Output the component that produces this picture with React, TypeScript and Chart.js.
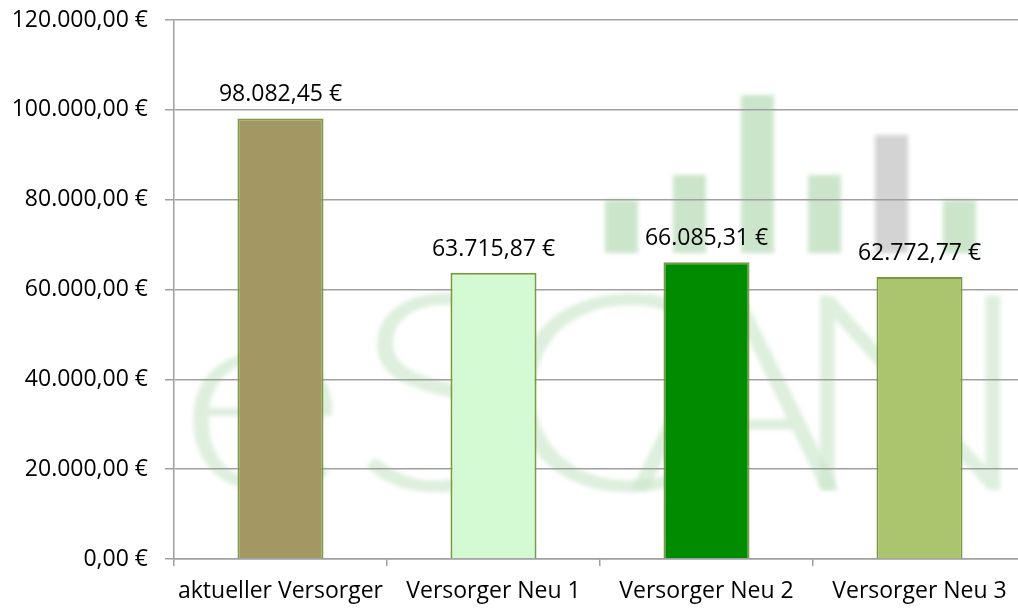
import React, { useEffect, useRef } from "react";
import { Chart, registerables } from "chart.js";

Chart.register(...registerables);

const categories = ["aktueller Versorger", "Versorger Neu 1", "Versorger Neu 2", "Versorger Neu 3"];
const values = [98082.45, 63715.87, 66085.31, 62772.77];
const barColors = ["#A39764", "#D4FAD4", "#008C00", "#ABC46E"];
const yMin = 0;
const yMax = 120000;
const yStep = 20000;

const FONT = "'Open Sans', 'Noto Sans', sans-serif";
const GRID = "#A0A0A0";

function fmtEuro(v: number): string {
  const [i, d] = Number(v).toFixed(2).split(".");
  const ip = i.replace(/\B(?=(\d{3})+(?!\d))/g, ".");
  return ip + "," + d + " €";
}

// faint background logo (decorative watermark, not data)
const watermarkPlugin = {
  id: "watermark",
  beforeDraw(chart: any) {
    const ctx = chart.ctx as CanvasRenderingContext2D;
    ctx.save();
    ctx.filter = "blur(2px)";
    const icon = [
      { x: 605, top: 200, c: "#CBE5CB" },
      { x: 673, top: 175, c: "#CBE5CB" },
      { x: 741, top: 95, c: "#CBE5CB" },
      { x: 808, top: 175, c: "#CBE5CB" },
      { x: 875, top: 135, c: "#D3D3D3" },
      { x: 943, top: 200, c: "#CBE5CB" },
    ];
    icon.forEach((b) => {
      ctx.fillStyle = b.c;
      ctx.fillRect(b.x, b.top, 33, 253 - b.top);
    });
    ctx.fillStyle = "rgba(200,229,200,0.6)";
    ctx.font = "300 275px Lato, 'Open Sans', sans-serif";
    ctx.textAlign = "center";
    ctx.textBaseline = "alphabetic";
    const letters = [
      { t: "e", x: 262 },
      { t: "S", x: 440 },
      { t: "C", x: 610 },
      { t: "A", x: 735 },
      { t: "N", x: 910 },
    ];
    letters.forEach((l) => {
      ctx.save();
      ctx.translate(l.x, 490);
      ctx.scale(1.2, 1);
      ctx.fillText(l.t, 0, 0);
      ctx.restore();
    });
    ctx.restore();
  },
};

const dataLabelPlugin = {
  id: "dataLabels",
  afterDatasetsDraw(chart: any) {
    const ctx = chart.ctx as CanvasRenderingContext2D;
    const meta = chart.getDatasetMeta(0);
    const data = chart.data.datasets[0].data as number[];
    ctx.save();
    ctx.fillStyle = "#000";
    ctx.font = `23px ${FONT}`;
    ctx.textAlign = "center";
    ctx.textBaseline = "alphabetic";
    meta.data.forEach((el: any, i: number) => {
      ctx.fillText(fmtEuro(data[i]), el.x, el.y - 17);
    });
    ctx.restore();
  },
};

export default function App() {
  const ref = useRef<HTMLCanvasElement | null>(null);

  useEffect(() => {
    if (!ref.current) return;
    const chart = new Chart(ref.current, {
      type: "bar",
      data: {
        labels: categories,
        datasets: [
          {
            data: values,
            backgroundColor: barColors,
            borderColor: "#7A9A42",
            borderWidth: 2,
            barPercentage: 0.404,
            categoryPercentage: 1,
          },
        ],
      },
      options: {
        responsive: false,
        animation: false,
        layout: { padding: { top: 20, right: 4, left: 0, bottom: 0 } },
        plugins: {
          legend: { display: false },
          tooltip: { enabled: false },
          title: { display: false },
        },
        scales: {
          x: {
            type: "category",
            offset: true,
            grid: {
              drawOnChartArea: false,
              drawTicks: true,
              tickLength: 7,
              color: GRID,
              lineWidth: 1.5,
              offset: true,
            },
            border: { color: GRID, width: 1.5 },
            ticks: {
              color: "#000",
              font: { family: FONT, size: 23 },
              padding: 12,
              maxRotation: 0,
              autoSkip: false,
            },
            afterFit: (s: any) => {
              s.height = 49;
              s.paddingLeft = 0;
              s.paddingRight = 0;
            },
          },
          y: {
            min: yMin,
            max: yMax,
            ticks: {
              stepSize: yStep,
              callback: (v: any) => fmtEuro(Number(v)),
              color: "#000",
              font: { family: FONT, size: 23 },
              padding: 17,
            },
            grid: { color: GRID, lineWidth: 1.5, tickLength: 9 },
            border: { color: GRID, width: 1.5 },
            afterFit: (s: any) => {
              s.width = 174;
              s.paddingTop = 0;
              s.paddingBottom = 0;
            },
          },
        },
      },
      plugins: [watermarkPlugin, dataLabelPlugin],
    });
    return () => chart.destroy();
  }, []);

  return (
    <div
      style={{
        position: "fixed",
        left: 0,
        top: 0,
        width: 1018,
        height: 608,
        overflow: "hidden",
        background: "#fff",
      }}
    >
      <canvas ref={ref} width={1030} height={608} style={{ display: "block" }} />
    </div>
  );
}
